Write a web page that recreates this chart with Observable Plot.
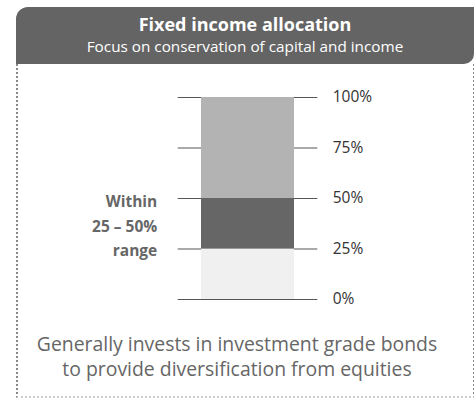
<!DOCTYPE html>
<html><head><meta charset="utf-8">
<script src="https://cdn.jsdelivr.net/npm/d3@7"></script>
<script src="https://cdn.jsdelivr.net/npm/@observablehq/plot@0.6"></script>
<style>
body{margin:0;background:#fff;font-family:"Open Sans",sans-serif;}
#wrap{position:relative;width:474px;height:400px;overflow:hidden;}
#head{position:absolute;left:16px;top:7px;width:458px;height:57px;background:#646464;border-radius:12px 0 10px 0;color:#fff;text-align:center;}
#head .t{font-weight:700;font-size:18px;line-height:22px;margin-top:6px;}
#head .s{font-size:15.3px;line-height:20px;margin-top:1px;}
#box{position:absolute;left:16px;top:64px;width:455px;height:332px;border-left:2px dotted #888;border-right:2px dotted #888;border-bottom:2px dotted #ccc;}
#plot{position:absolute;left:0;top:80px;}
#cap{position:absolute;left:0;top:331px;width:474px;text-align:center;color:#666;font-size:19.4px;line-height:25px;}
</style></head>
<body><div id="wrap">
<div id="head"><div class="t">Fixed income allocation</div><div class="s">Focus on conservation of capital and income</div></div>
<div id="box"></div>
<div id="plot"></div>
<div id="cap">Generally invests in investment grade bonds<br>to provide diversification from equities</div>
</div>
<script>
const segStart = [0, 25, 50];
const segEnd = [25, 50, 100];
const segColor = ["#f0f0f0", "#666666", "#b3b3b3"];
const tickValues = [0, 25, 50, 75, 100];
const rangeLabel = "Within\n25 – 50%\nrange";

const segs = segStart.map((s, i) => ({y1: s, y2: segEnd[i], c: segColor[i]}));
const chart = Plot.plot({
  width: 474, height: 240,
  marginTop: 17, marginBottom: 21, marginLeft: 177.75, marginRight: 156.75,
  style: {fontFamily: "Open Sans", fontSize: "15.5px", color: "#333", background: "transparent"},
  x: {domain: [-1, 5], axis: null},
  y: {domain: [0, 100], axis: "right", ticks: tickValues, tickSize: 0, tickPadding: 15, tickFormat: d => d + "%", label: null},
  marks: [
    Plot.ruleY(tickValues, {x1: -1, x2: 5, stroke: "#555", strokeWidth: 1.2}),
    Plot.rectY(segs, {x1: 0, x2: 4, y1: "y1", y2: "y2", fill: "c", inset: 0}),
    Plot.text([rangeLabel], {x: -1, y: 37.5, dx: -21, text: d => d, textAnchor: "end", lineHeight: 1.6, fontWeight: 700, fill: "#666", fontSize: 15.5})
  ]
});
document.getElementById("plot").appendChild(chart);
</script>
</body></html>
